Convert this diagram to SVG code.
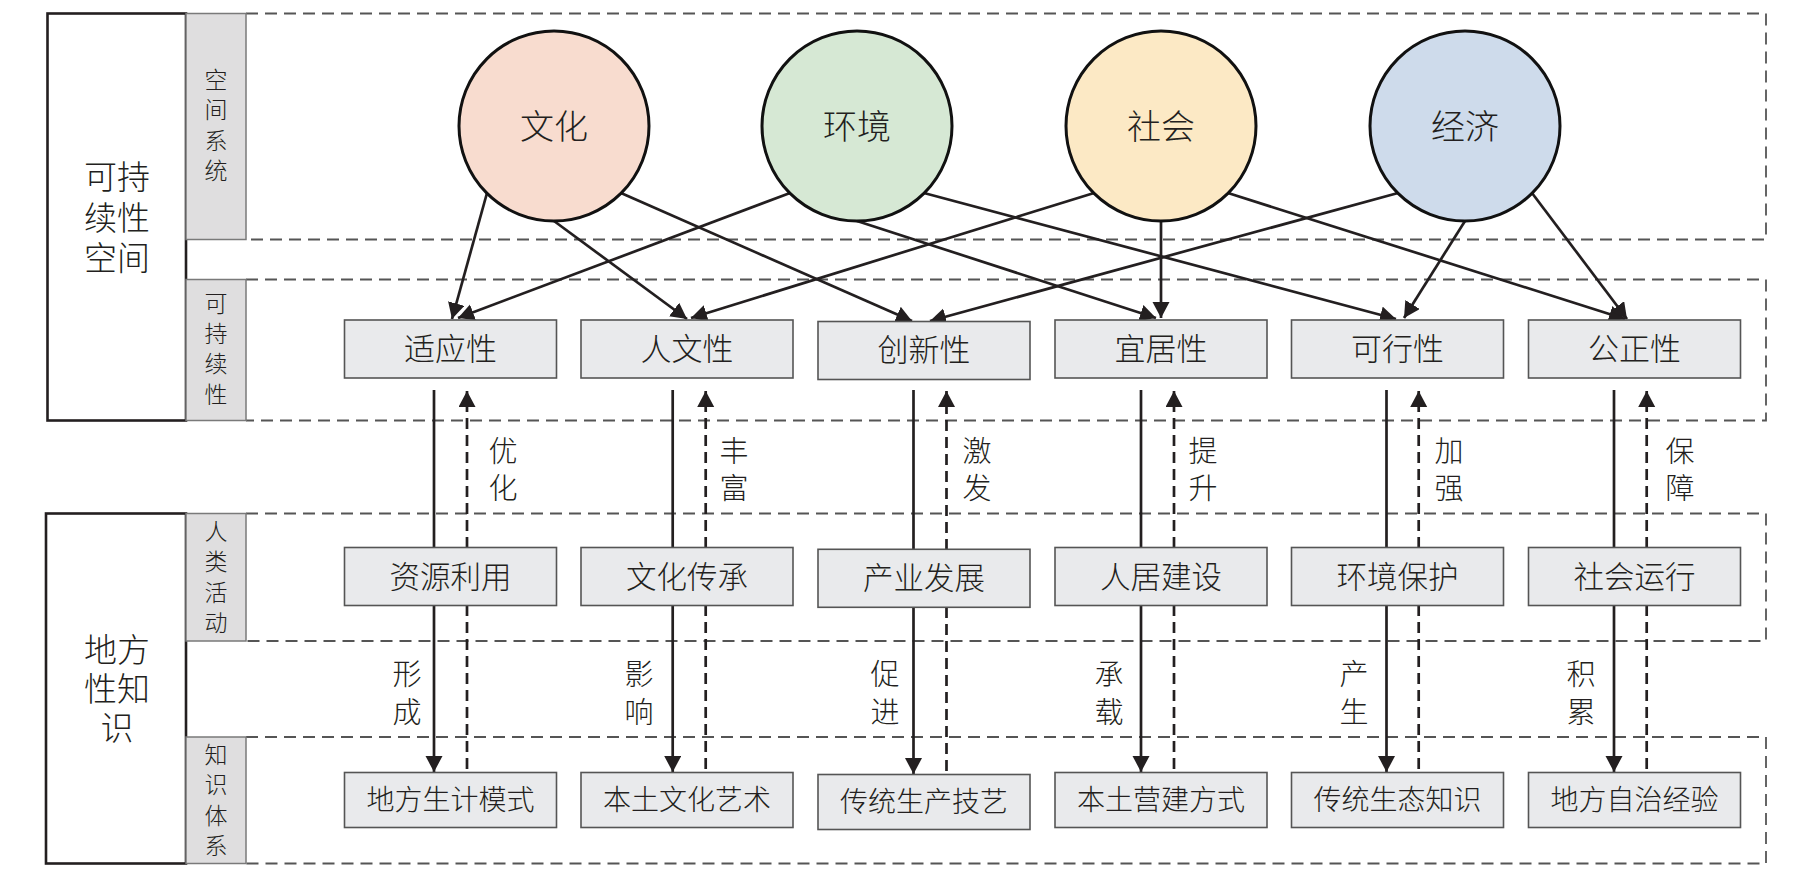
<svg xmlns="http://www.w3.org/2000/svg" width="1818" height="879" viewBox="0 0 1818 879">
<defs>
<marker id="ah" markerUnits="userSpaceOnUse" markerWidth="18" markerHeight="18" refX="16" refY="8.5" orient="auto">
<path d="M0,0 L16,8.5 L0,17 z" fill="#231f20"/>
</marker>
<style>
text{font-family:"Liberation Sans","Noto Sans CJK SC",sans-serif;font-weight:300;fill:#231f20;text-anchor:middle;dominant-baseline:central}
.row{fill:none;stroke:#555;stroke-width:1.8;stroke-dasharray:12 7}
.col{fill:#dfdedf;stroke:#7a7a7a;stroke-width:1.5}
.big{fill:#fff;stroke:#231f20;stroke-width:2.6}
.circ{stroke:#111;stroke-width:3}
.box{fill:#e9eaec;stroke:#555;stroke-width:1.6}
.ln{fill:none;stroke:#231f20;stroke-width:2.7}
.dl{fill:none;stroke:#231f20;stroke-width:2.7;stroke-dasharray:11 6}
.t1{font-size:31px}
.t2{font-size:30.5px}
.t3{font-size:28px}
.tc{font-size:34px}
.tl{font-size:33px}
.tg{font-size:23px}
.tb{font-size:29px}
</style>
</defs>

<g id="layers">
<path class="row" d="M246,13.5 H1766 V239.5 H246"/>
<path class="row" d="M246,279.5 H1766 V420.5 H246"/>
<path class="row" d="M246,513.5 H1766 V641 H246"/>
<path class="row" d="M246,737 H1766 V863.5 H246"/>
</g>

<g id="side-sustainable-space">
<rect class="big" x="47.5" y="13.5" width="138.5" height="407"/>
<text class="tl"><tspan x="117" y="177">可持</tspan><tspan x="117" y="218">续性</tspan><tspan x="117" y="258">空间</tspan></text>
</g>
<g id="side-local-knowledge">
<rect class="big" x="46" y="513.5" width="140" height="350"/>
<text class="tl"><tspan x="117" y="650">地方</tspan><tspan x="117" y="689">性知</tspan><tspan x="117" y="728">识</tspan></text>
</g>

<g id="tag-space-system">
<rect class="col" x="186" y="13.5" width="60" height="226"/>
<text class="tg"><tspan x="216" y="80">空</tspan><tspan x="216" y="110">间</tspan><tspan x="216" y="141">系</tspan><tspan x="216" y="171">统</tspan></text>
</g>
<g id="tag-sustainability">
<rect class="col" x="186" y="279.5" width="60" height="141"/>
<text class="tg"><tspan x="216" y="304">可</tspan><tspan x="216" y="334">持</tspan><tspan x="216" y="364">续</tspan><tspan x="216" y="395">性</tspan></text>
</g>
<g id="tag-human-activity">
<rect class="col" x="186" y="513.5" width="60" height="127.5"/>
<text class="tg"><tspan x="216" y="532">人</tspan><tspan x="216" y="562">类</tspan><tspan x="216" y="593">活</tspan><tspan x="216" y="623">动</tspan></text>
</g>
<g id="tag-knowledge-system">
<rect class="col" x="186" y="737" width="60" height="126.5"/>
<text class="tg"><tspan x="216" y="755">知</tspan><tspan x="216" y="785">识</tspan><tspan x="216" y="816">体</tspan><tspan x="216" y="846">系</tspan></text>
</g>

<g id="connectors">
<path class="ln" marker-end="url(#ah)" d="M487,193 L452,319"/>
<path class="ln" marker-end="url(#ah)" d="M554,221 L687,319"/>
<path class="ln" marker-end="url(#ah)" d="M621,193 L912,321"/>
<path class="ln" marker-end="url(#ah)" d="M790,193 L458,318"/>
<path class="ln" marker-end="url(#ah)" d="M857,221 L1156,318"/>
<path class="ln" marker-end="url(#ah)" d="M924,193 L1396,319"/>
<path class="ln" marker-end="url(#ah)" d="M1094,193 L691,318"/>
<path class="ln" marker-end="url(#ah)" d="M1161,221 L1161,318"/>
<path class="ln" marker-end="url(#ah)" d="M1228,193 L1625,319"/>
<path class="ln" marker-end="url(#ah)" d="M1398,193 L930,321"/>
<path class="ln" marker-end="url(#ah)" d="M1465,221 L1404,318"/>
<path class="ln" marker-end="url(#ah)" d="M1532,193 L1627,319"/>
<path class="ln" marker-end="url(#ah)" d="M434,390 V772"/>
<path class="dl" marker-end="url(#ah)" d="M467,769 V391"/>
<path class="ln" marker-end="url(#ah)" d="M672.7,390 V772"/>
<path class="dl" marker-end="url(#ah)" d="M705.7,769 V391"/>
<path class="ln" marker-end="url(#ah)" d="M913.5,390 V774"/>
<path class="dl" marker-end="url(#ah)" d="M946.5,771 V391"/>
<path class="ln" marker-end="url(#ah)" d="M1141,390 V772"/>
<path class="dl" marker-end="url(#ah)" d="M1174,769 V391"/>
<path class="ln" marker-end="url(#ah)" d="M1386.5,390 V772"/>
<path class="dl" marker-end="url(#ah)" d="M1418.7,769 V391"/>
<path class="ln" marker-end="url(#ah)" d="M1614,390 V772"/>
<path class="dl" marker-end="url(#ah)" d="M1646.7,769 V391"/>
</g>

<g id="connector-labels">
<text class="tb"><tspan x="503" y="452">优</tspan><tspan x="503" y="489">化</tspan></text>
<text class="tb"><tspan x="734" y="452">丰</tspan><tspan x="734" y="489">富</tspan></text>
<text class="tb"><tspan x="977" y="452">激</tspan><tspan x="977" y="489">发</tspan></text>
<text class="tb"><tspan x="1203" y="452">提</tspan><tspan x="1203" y="489">升</tspan></text>
<text class="tb"><tspan x="1449" y="452">加</tspan><tspan x="1449" y="489">强</tspan></text>
<text class="tb"><tspan x="1680" y="452">保</tspan><tspan x="1680" y="489">障</tspan></text>
<text class="tb"><tspan x="407" y="675">形</tspan><tspan x="407" y="713">成</tspan></text>
<text class="tb"><tspan x="639" y="675">影</tspan><tspan x="639" y="713">响</tspan></text>
<text class="tb"><tspan x="885" y="675">促</tspan><tspan x="885" y="713">进</tspan></text>
<text class="tb"><tspan x="1109" y="675">承</tspan><tspan x="1109" y="713">载</tspan></text>
<text class="tb"><tspan x="1354" y="675">产</tspan><tspan x="1354" y="713">生</tspan></text>
<text class="tb"><tspan x="1581" y="675">积</tspan><tspan x="1581" y="713">累</tspan></text>
</g>

<g id="culture"><circle class="circ" cx="554" cy="126" r="95" fill="#f8dccf"/><text class="tc" x="554" y="127">文化</text></g>
<g id="environment"><circle class="circ" cx="857" cy="126" r="95" fill="#d6e8d4"/><text class="tc" x="857" y="127">环境</text></g>
<g id="society"><circle class="circ" cx="1161" cy="126" r="95" fill="#fce9c5"/><text class="tc" x="1161" y="127">社会</text></g>
<g id="economy"><circle class="circ" cx="1465" cy="126" r="95" fill="#cedbeb"/><text class="tc" x="1465" y="127">经济</text></g>

<g id="adaptability"><rect class="box" x="344.5" y="320" width="212" height="58"/><text class="t1" x="450.5" y="349">适应性</text></g>
<g id="humanity"><rect class="box" x="581" y="320" width="212" height="58"/><text class="t1" x="687" y="349">人文性</text></g>
<g id="innovation"><rect class="box" x="818" y="321.5" width="212" height="58"/><text class="t1" x="924" y="350.5">创新性</text></g>
<g id="livability"><rect class="box" x="1055" y="320" width="212" height="58"/><text class="t1" x="1161" y="349">宜居性</text></g>
<g id="feasibility"><rect class="box" x="1291.5" y="320" width="212" height="58"/><text class="t1" x="1397.5" y="349">可行性</text></g>
<g id="equity"><rect class="box" x="1528.5" y="320" width="212" height="58"/><text class="t1" x="1634.5" y="349">公正性</text></g>

<g id="resource-use"><rect class="box" x="344.5" y="547.5" width="212" height="58"/><text class="t2" x="450.5" y="576.5">资源利用</text></g>
<g id="cultural-heritage"><rect class="box" x="581" y="547.5" width="212" height="58"/><text class="t2" x="687" y="576.5">文化传承</text></g>
<g id="industry"><rect class="box" x="818" y="549.3" width="212" height="58"/><text class="t2" x="924" y="578.3">产业发展</text></g>
<g id="settlement"><rect class="box" x="1055" y="547.5" width="212" height="58"/><text class="t2" x="1161" y="576.5">人居建设</text></g>
<g id="env-protection"><rect class="box" x="1291.5" y="547.5" width="212" height="58"/><text class="t2" x="1397.5" y="576.5">环境保护</text></g>
<g id="social-operation"><rect class="box" x="1528.5" y="547.5" width="212" height="58"/><text class="t2" x="1634.5" y="576.5">社会运行</text></g>

<g id="livelihood"><rect class="box" x="344.5" y="772.5" width="212" height="55"/><text class="t3" x="450.5" y="800">地方生计模式</text></g>
<g id="folk-art"><rect class="box" x="581" y="772.5" width="212" height="55"/><text class="t3" x="687" y="800">本土文化艺术</text></g>
<g id="craft"><rect class="box" x="818" y="774.5" width="212" height="55"/><text class="t3" x="924" y="802">传统生产技艺</text></g>
<g id="building"><rect class="box" x="1055" y="772.5" width="212" height="55"/><text class="t3" x="1161" y="800">本土营建方式</text></g>
<g id="eco-knowledge"><rect class="box" x="1291.5" y="772.5" width="212" height="55"/><text class="t3" x="1397.5" y="800">传统生态知识</text></g>
<g id="self-governance"><rect class="box" x="1528.5" y="772.5" width="212" height="55"/><text class="t3" x="1634.5" y="800">地方自治经验</text></g>
</svg>
